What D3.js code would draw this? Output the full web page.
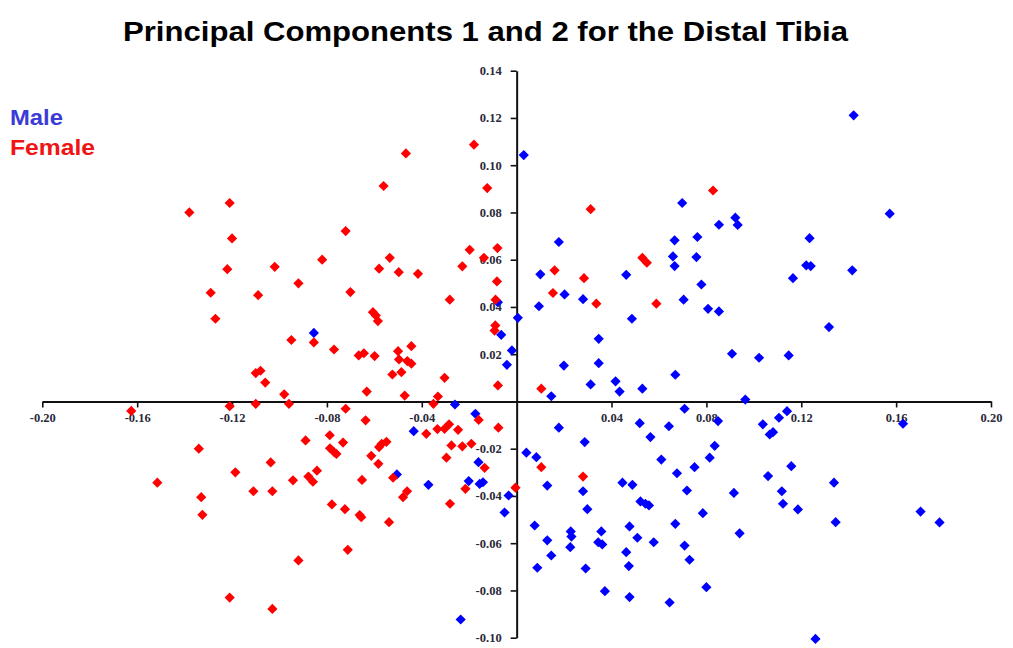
<!DOCTYPE html>
<html>
<head>
<meta charset="utf-8">
<script src="https://cdn.jsdelivr.net/npm/d3@7"></script>
<style>
  html, body { margin: 0; padding: 0; background: #fff; }
  svg { display: block; }
</style>
</head>
<body>
<svg id="chart" width="1013" height="648"></svg>
<script>
// ---------------- DATA ----------------
const chartTitle = "Principal Components 1 and 2 for the Distal Tibia";
const seriesNames = ["Male", "Female"];

const xTickValues = [-0.20, -0.16, -0.12, -0.08, -0.04, 0.04, 0.08, 0.12, 0.16, 0.20];
const yTickValues = [0.14, 0.12, 0.10, 0.08, 0.06, 0.04, 0.02, -0.02, -0.04, -0.06, -0.08, -0.10];

const maleX = [
  -0.0855, -0.0505, -0.0434, -0.0372, -0.026, -0.0174, -0.0161, -0.0202, -0.0156, -0.0142,
  -0.0034, -0.0051, 0.0041, -0.0236, -0.0041, -0.002, -0.0065, 0.0005, -0.0079, 0.003,
  0.0698, 0.0178, 0.0853, 0.0922, 0.0932, 0.0666, 0.0762, 0.010, 0.0202, 0.028,
  0.0462, 0.0659, 0.0666, 0.0758, 0.0704, 0.0779, 0.0807, 0.0853, 0.0094, 0.0486,
  0.0346, 0.1421, 0.1573, 0.1235, 0.1221, 0.124, 0.1165, 0.1415, 0.1317, 0.0199,
  0.0346, 0.0669, 0.0908, 0.0146, 0.0312, 0.0417, 0.0434, 0.053, 0.0964, 0.0708,
  0.0519, 0.0642, 0.0849, 0.0178, 0.0564, 0.0287, 0.0835, 0.0814, 0.0083, 0.061,
  0.075, 0.0676, 0.0129, 0.0446, 0.0488, 0.0718, 0.028, 0.0522, 0.0543, 0.0558,
  0.0298, 0.0916, 0.0785, 0.0669, 0.0076, 0.0476, 0.0228, 0.0231, 0.0357, 0.094,
  0.0129, 0.0226, 0.0344, 0.0361, 0.0509, 0.0578, 0.0708, 0.0146, 0.0462, 0.0729,
  0.0087, 0.0291, 0.0473, 0.0372, 0.0476, 0.0645, 0.08, 0.1022, 0.1147, 0.114,
  0.1106, 0.1038, 0.1067, 0.1081, 0.1629, 0.1158, 0.106, 0.1338, 0.1118, 0.1123,
  0.1186, 0.1345, 0.1703, 0.1783, 0.126
];
const maleY = [
  0.029, -0.0309, -0.0126, -0.0353, -0.0013, -0.0052, -0.0257, -0.0337, -0.0349, -0.0342,
  -0.0398, -0.047, -0.0217, -0.0923, 0.0155, 0.0216, 0.0282, 0.0354, 0.042, 0.1043,
  0.084, 0.0675, 0.0748, 0.0778, 0.0747, 0.0682, 0.0696, 0.0538, 0.0453, 0.0433,
  0.0536, 0.0614, 0.0573, 0.0611, 0.0431, 0.0495, 0.0392, 0.0381, 0.0403, 0.035,
  0.0265, 0.1211, 0.0795, 0.0691, 0.0576, 0.0573, 0.0522, 0.0555, 0.0315, 0.0152,
  0.0162, 0.0113, 0.0202, 0.0022, 0.0072, 0.0085, 0.0042, 0.0054, 0.0008, -0.0031,
  -0.0092, -0.0105, -0.0083, -0.0111, -0.0151, -0.0172, -0.0188, -0.0238, -0.0236, -0.0246,
  -0.0278, -0.0304, -0.0356, -0.0344, -0.0353, -0.0377, -0.038, -0.0423, -0.0433, -0.044,
  -0.0456, -0.0387, -0.0473, -0.0518, -0.0525, -0.0529, -0.055, -0.0572, -0.055, -0.0558,
  -0.0588, -0.0617, -0.0596, -0.0605, -0.0577, -0.0596, -0.061, -0.0652, -0.0638, -0.067,
  -0.0704, -0.0707, -0.0697, -0.0803, -0.0828, -0.0851, -0.0786, 0.0185, 0.0195, -0.0041,
  -0.0069, -0.0097, -0.014, -0.013, -0.0094, -0.0274, -0.0316, -0.0344, -0.038, -0.0433,
  -0.0457, -0.0511, -0.0466, -0.0512, -0.1005
];

const femaleX = [
  -0.138, -0.121, -0.120, -0.122, -0.129, -0.109, -0.127, -0.102, -0.082, -0.092,
  -0.095, -0.0855, -0.077, -0.110, -0.108, -0.106, -0.098, -0.096, -0.110, -0.121,
  -0.1625, -0.134, -0.1186, -0.1515, -0.133, -0.1325, -0.111, -0.1037, -0.103, -0.121,
  -0.103, -0.0943, -0.092, -0.089, -0.0878, -0.0859, -0.0842, -0.0788, -0.0787, -0.0769,
  -0.076, -0.0732, -0.0721, -0.0779, -0.0724, -0.0712, -0.0662, -0.0655, -0.0652, -0.0637,
  -0.0613, -0.0583, -0.058, -0.0569, -0.0549, -0.0538, -0.0521, -0.0479, -0.0462, -0.0381,
  -0.0351, -0.0334, -0.0304, -0.0285, -0.0247, -0.0275, -0.0229, -0.0191, -0.0296, -0.016,
  -0.0135, -0.0216, -0.0281, -0.0077, -0.0005, -0.0666, -0.0644, -0.0599, -0.050, -0.0444,
  -0.0496, -0.0461, -0.0444, -0.0524, -0.0486, -0.0304, -0.0632, -0.0472, -0.0332, -0.0079,
  -0.0721, -0.0535, -0.058, -0.0497, -0.0416, -0.0701, -0.0606, -0.0594, -0.0585, -0.0282,
  -0.0198, -0.0229, -0.0138, -0.0081, -0.0083, -0.0089, -0.009, -0.0093, -0.018, -0.0467,
  -0.0561, -0.0124, 0.0312, 0.0828, 0.016, 0.0153, 0.0284, 0.0336, 0.053, 0.0549,
  0.0589, 0.0104, 0.0104, 0.028
];
const femaleY = [
  0.080, 0.084, 0.069, 0.056, 0.046, 0.045, 0.035, 0.057, 0.060, 0.050,
  0.026, 0.025, 0.022, 0.012, 0.013, 0.008, 0.003, -0.001, -0.001, -0.002,
  -0.004, -0.020, -0.030, -0.0344, -0.0405, -0.048, -0.038, -0.0258, -0.038, -0.083,
  -0.0878, -0.0334, -0.0673, -0.0165, -0.0318, -0.034, -0.0293, -0.0143, -0.0198, -0.0215,
  -0.0222, -0.0174, -0.0031, -0.0436, -0.0456, -0.0628, -0.0481, -0.049, -0.0332, -0.008,
  -0.023, -0.0264, -0.0193, -0.0179, -0.0171, -0.0511, -0.0323, -0.0405, -0.038, -0.0137,
  -0.001, -0.0117, -0.0116, -0.0097, -0.012, -0.0186, -0.019, -0.0179, -0.0238, -0.0078,
  -0.0281, -0.037, -0.0433, -0.0111, -0.0365, 0.0195, 0.0204, 0.0192, 0.0213, 0.0234,
  0.0178, 0.0171, 0.016, 0.0114, 0.0124, 0.010, 0.0042, 0.0025, 0.0021, 0.0068,
  0.0721, 0.0608, 0.0562, 0.0547, 0.054, 0.0463, 0.0378, 0.0364, 0.034, 0.0431,
  0.0642, 0.0572, 0.0608, 0.0649, 0.0508, 0.0431, 0.0322, 0.030, 0.1087, 0.105,
  0.0912, 0.0903, 0.0814, 0.0893, 0.0555, 0.0459, 0.0522, 0.0414, 0.0608, 0.0587,
  0.0414, 0.0054, -0.0278, -0.0318
];

// ---------------- CHART ----------------
const svg = d3.select("#chart");
const W = 1013, H = 648;
svg.append("rect").attr("width", W).attr("height", H).attr("fill", "#fff");

const x = d3.scaleLinear().domain([-0.20, 0.20]).range([42.3, 991]);
const y = d3.scaleLinear().domain([-0.10, 0.14]).range([637.7, 70.7]);

const fmt = v => d3.format(".2f")(v).replace("\u2212", "-");

// Title
svg.append("text")
  .attr("x", 123).attr("y", 41)
  .attr("font-family", "Liberation Sans, Arial, sans-serif")
  .attr("font-weight", "bold")
  .attr("font-size", 27)
  .attr("textLength", 725)
  .attr("lengthAdjust", "spacingAndGlyphs")
  .attr("fill", "#000")
  .text(chartTitle);

// Legend (text only)
const legendColors = ["#3b3bd6", "#f01414"];
const legendWidths = [53, 85];
seriesNames.forEach((name, i) => {
  svg.append("text")
    .attr("x", 10).attr("y", 125 + i * 30)
    .attr("font-family", "Liberation Sans, Arial, sans-serif")
    .attr("font-weight", "bold")
    .attr("font-size", 22)
    .attr("textLength", legendWidths[i])
    .attr("lengthAdjust", "spacingAndGlyphs")
    .attr("fill", legendColors[i])
    .text(name);
});

// Axes
const xAxis = d3.axisBottom(x).tickValues(xTickValues).tickSize(6).tickPadding(6).tickSizeOuter(0).tickFormat(fmt);
const yAxis = d3.axisLeft(y).tickValues(yTickValues).tickSize(6).tickPadding(9).tickSizeOuter(0).tickFormat(fmt);

const gx = svg.append("g").attr("transform", `translate(0,${y(0)})`).call(xAxis);
const gy = svg.append("g").attr("transform", `translate(${x(0)},0)`).call(yAxis);

[gx, gy].forEach(g => {
  g.select(".domain").attr("stroke", "#111").attr("stroke-width", 2);
  g.selectAll(".tick line").attr("stroke", "#111").attr("stroke-width", 1.6);
  g.selectAll(".tick text")
    .attr("font-family", "Liberation Serif, Times New Roman, serif")
    .attr("font-weight", "bold")
    .attr("font-size", 12.5)
    .attr("fill", "#2a2a3a");
});

// Points (male first, female drawn on top)
const diamond = d3.symbol().type(d3.symbolSquare).size(52);
const series = [
  { xs: maleX, ys: maleY, color: "#0000ff" },
  { xs: femaleX, ys: femaleY, color: "#ff0000" }
];
series.forEach(s => {
  const pts = s.xs.map((v, i) => [v, s.ys[i]]);
  svg.append("g").selectAll("path")
    .data(pts)
    .join("path")
    .attr("d", diamond)
    .attr("transform", d => `translate(${x(d[0])},${y(d[1])}) rotate(45)`)
    .attr("fill", s.color);
});
</script>
</body>
</html>
